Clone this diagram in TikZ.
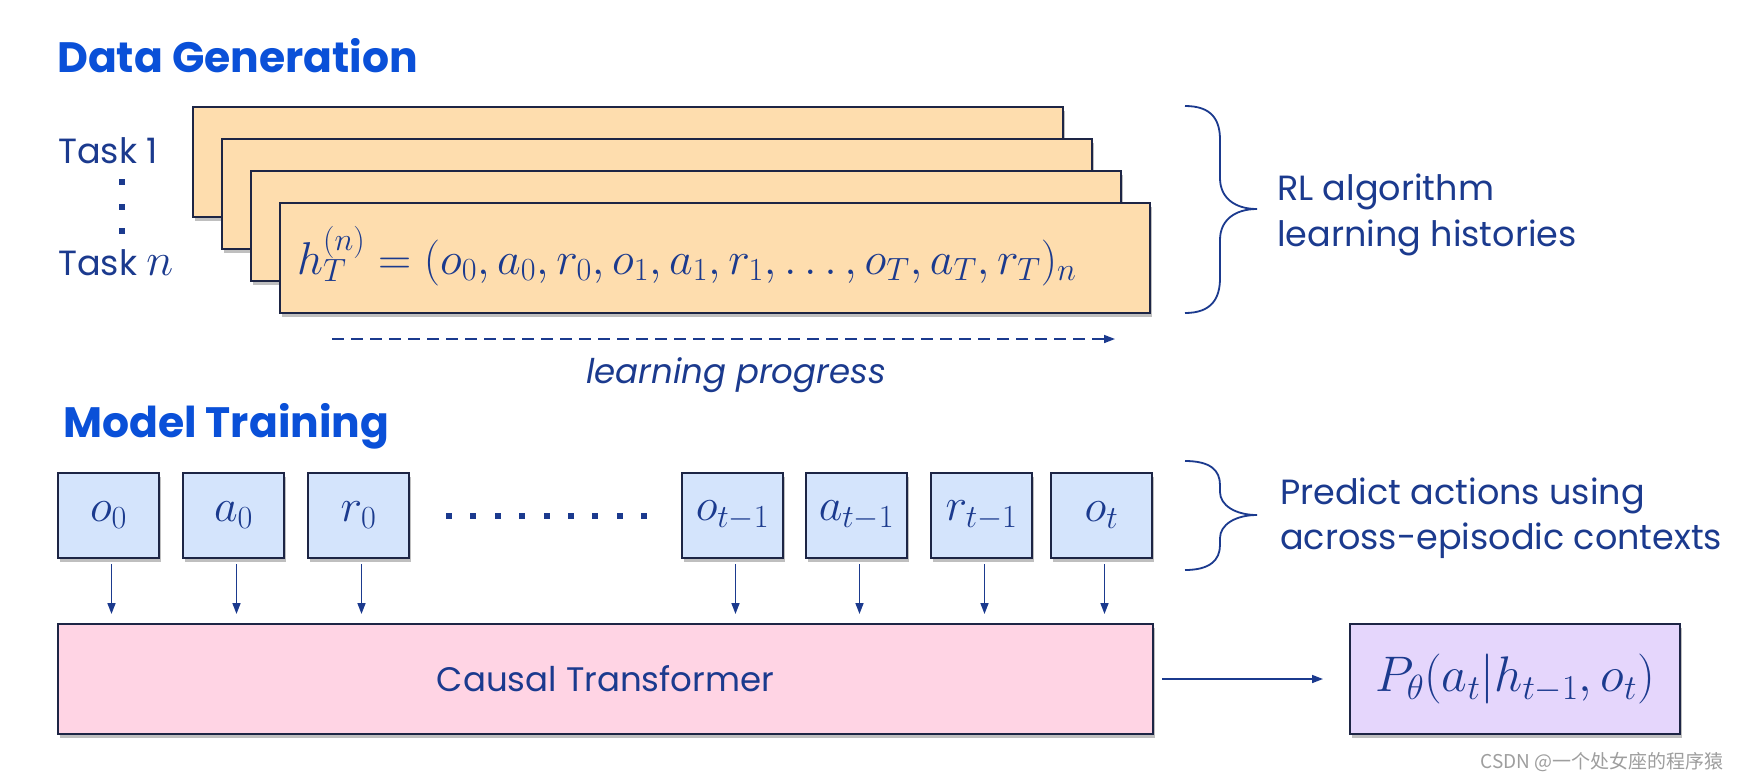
\RequirePackage{fix-cm}
\documentclass[tikz,border=0pt]{standalone}
\usepackage[no-math]{fontspec}
\setmainfont{Poppins}
\newfontfamily\cjkfont{Noto Sans CJK SC}
\usetikzlibrary{arrows.meta,shadows}
\definecolor{titleblue}{HTML}{0A50D8}
\definecolor{navy}{HTML}{1B3A8E}
\definecolor{edgecol}{HTML}{1D2545}
\definecolor{histfill}{HTML}{FEDDAE}
\definecolor{tokfill}{HTML}{D4E4FC}
\definecolor{ctfill}{HTML}{FFD4E4}
\definecolor{outfill}{HTML}{E5D6FC}
\newcommand{\mathsz}{\fontsize{46}{52}\selectfont}
\tikzset{
  titletext/.style={font=\fontsize{42.5}{48}\selectfont\bfseries, text=titleblue, inner sep=0pt},
  bodytext/.style={font=\fontsize{35}{46}\selectfont, text=navy, inner sep=0pt},
  boxbase/.style={draw=edgecol, line width=2pt, inner sep=0pt,
    drop shadow={shadow xshift=1.5pt, shadow yshift=-4pt, opacity=0.25, fill=black}},
  histbox/.style={boxbase, fill=histfill, minimum width=870pt, minimum height=110pt},
  tokbox/.style={boxbase, fill=tokfill, minimum width=101pt, minimum height=85pt, text=navy, font=\mathsz},
  arr/.style={draw=navy, line width=1.6pt, -{Triangle[length=11pt,width=8pt]}},
  bracestyle/.style={draw=navy, line width=1.8pt},
}
\begin{document}
\begin{tikzpicture}[x=1pt,y=-1pt]
\fill[white] (0,0) rectangle (1740,780);
\useasboundingbox (0,0) rectangle (1740,780);

% ---- Data generation ----
\node[titletext, anchor=base west] (dg) at (57,72) {Data Generation};

\node[bodytext, anchor=base west] (task1) at (58,163) {Task 1};
\node[bodytext, anchor=base west] (taskn) at (58,275) {Task {\mathsz$n$}};
\foreach \yy in {182,207,231}
  \fill[navy] (119,\yy-3) rectangle (125,\yy+3);

\node[histbox] (st1) at (628,162) {};
\node[histbox] (st2) at (657,194) {};
\node[histbox] (st3) at (686,226) {};
\node[histbox] (st4) at (715,258) {};
\node[anchor=base west, inner sep=0pt, text=navy, font=\mathsz] (hist) at (297,274)
  {$h_T^{(n)} = (o_0, a_0, r_0, o_1, a_1, r_1, \ldots, o_T, a_T, r_T)_n$};

\coordinate (lpS) at (332,339);
\coordinate (lpE) at (1115,339);
\draw[arr, dash pattern=on 12pt off 7pt] (lpS) -- (lpE);
\node[bodytext, font=\fontsize{34}{42}\selectfont\itshape, anchor=base west] (lp) at (586,383) {learning progress};

% brace 1
\draw[bracestyle] (1185,106) .. controls (1212,106) and (1220,120) .. (1220,140)
  -- (1220,178) .. controls (1220,198) and (1235,209) .. (1257,209)
  .. controls (1235,209) and (1220,220) .. (1220,240)
  -- (1220,278) .. controls (1220,298) and (1212,313) .. (1185,313);
\node[bodytext, anchor=base west] (rl1) at (1277,200) {RL algorithm};
\node[bodytext, anchor=base west] (rl2) at (1277,246) {learning histories};

% ---- Model training ----
\node[titletext, anchor=base west] (mt) at (63,437) {Model Training};

\node[tokbox] (o0) at (108.5,515.5) {$o_0$};
\node[tokbox] (a0) at (233.5,515.5) {$a_0$};
\node[tokbox] (r0) at (358.5,515.5) {$r_0$};
\node[tokbox] (otm) at (732.5,515.5) {$o_{t-1}$};
\node[tokbox] (atm) at (856.5,515.5) {$a_{t-1}$};
\node[tokbox] (rtm) at (981.5,515.5) {$r_{t-1}$};
\node[tokbox] (ot) at (1101.5,515.5) {$o_t$};
\foreach \i in {0,...,8}
  \fill[navy] (446+24.4*\i,513) rectangle (452+24.4*\i,519);

\node[boxbase, fill=ctfill, minimum width=1095pt, minimum height=110pt,
  bodytext, font=\fontsize{34}{42}\selectfont] (ct) at (605.5,679) {Causal Transformer};
\node[boxbase, fill=outfill, minimum width=330pt, minimum height=110pt,
  text=navy, font=\fontsize{50}{56}\selectfont] (pout) at (1515,679) {$P_\theta(a_t|h_{t-1},o_t)$};

\foreach \n in {o0,a0,r0,otm,atm,rtm,ot}
  \draw[arr, shorten >=9pt] ([xshift=3pt,yshift=-5pt]\n.south) -- ([xshift=3pt]\n.south |- ct.north);
\draw[arr, shorten <=8pt, shorten >=26pt] (ct.east) -- (pout.west);

% brace 2
\draw[bracestyle] (1185,461) .. controls (1210,461) and (1220,470) .. (1220,485)
  -- (1220,492) .. controls (1220,505) and (1235,515) .. (1257,515)
  .. controls (1235,515) and (1220,525) .. (1220,538)
  -- (1220,545) .. controls (1220,560) and (1210,570) .. (1185,570);
\node[bodytext, anchor=base west] (pa1) at (1280,504) {Predict actions using};
\node[bodytext, anchor=base west] (pa2) at (1280,549) {across-episodic contexts};

\node[anchor=east, inner sep=0pt, text=black!38, font=\cjkfont\fontsize{19}{22}\selectfont] (wm) at (1724,762) {CSDN @一个处女座的程序猿};
\end{tikzpicture}
\end{document}
